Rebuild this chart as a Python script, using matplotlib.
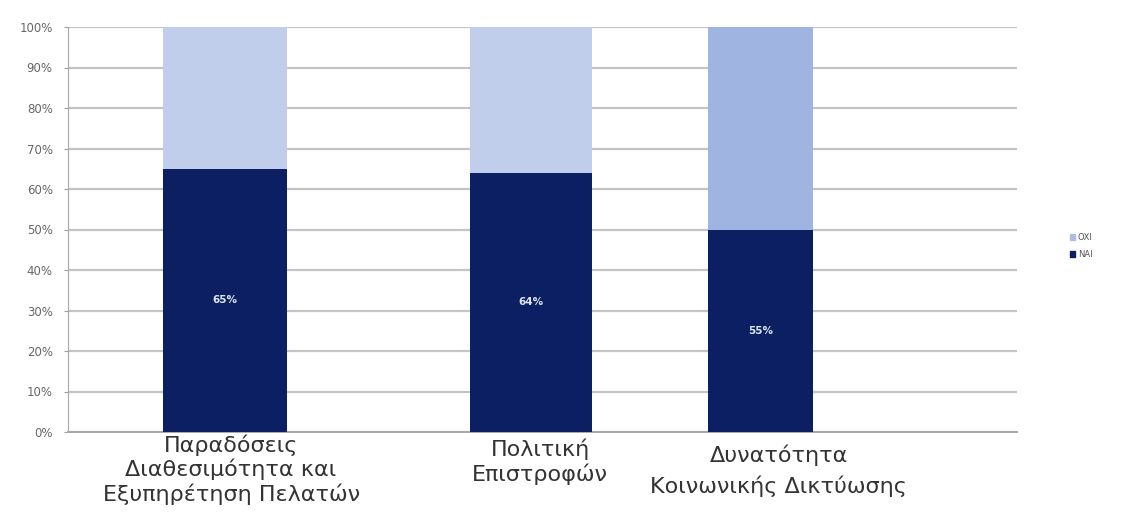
import numpy as np
import matplotlib
matplotlib.use("Agg")
import matplotlib.pyplot as plt
from matplotlib.patches import Patch

# ---- data ----
categories = ["Παραδόσεις\nΔιαθεσιμότητα και\nΕξυπηρέτηση Πελατών",
              "Πολιτική\nΕπιστροφών",
              "Δυνατότητα\nΚοινωνικής Δικτύωσης"]
nai = [65, 64, 50]
oxi = [35, 36, 50]
nai_labels = ["65%", "64%", "55%"]
series_names = ["ΝΑΙ", "ΟΧΙ"]
yticks = [0, 10, 20, 30, 40, 50, 60, 70, 80, 90, 100]

# ---- layout / style ----
bar_shift = [0.0, 0.0, -0.25]
bar_width = [0.405, 0.40, 0.345]
label_shift = [0.02, 0.03, -0.19]
label_drop = [2, 5, 9]          # points below axis
label_linespacing = [1.15, 1.2, 1.55]
nai_color = "#0b1f62"
oxi_colors = ["#c0cdeb", "#c0cdeb", "#9fb4e0"]

plt.rcParams['font.family'] = ['DejaVu Sans']

fig = plt.figure(figsize=(11.25, 5.22), dpi=100)
ax = fig.add_axes([68/1125, 90/522, (1017-68)/1125, (432-27)/522])

x = np.arange(len(categories)) + np.array(bar_shift)
ax.bar(x, nai, width=bar_width, color=nai_color, zorder=3)
ax.bar(x, oxi, width=bar_width, bottom=nai, color=oxi_colors, zorder=3)

for xi, v, t in zip(x, nai, nai_labels):
    ax.text(xi, v / 2, t, ha="center", va="center", fontsize=7.5,
            fontweight="bold", color="#dfe6f5", zorder=4)

ax.set_xlim(-0.513, 2.588)
ax.set_ylim(0, 100)
ax.set_yticks(yticks)
ax.set_yticklabels([f"{t}%" for t in yticks], fontsize=8.5, color="#666666")
ax.set_xticks([])
ax.yaxis.grid(True, color="#c4c4c4", linewidth=1.6, zorder=0)
ax.set_axisbelow(True)
ax.tick_params(axis="y", length=3, color="#a0a0a0", pad=8)
for s in ["top", "right"]:
    ax.spines[s].set_visible(False)
ax.spines["left"].set_color("#a8a8a8")
ax.spines["bottom"].set_color("#a8a8a8")
ax.spines["bottom"].set_linewidth(1.4)

xl = np.arange(len(categories)) + np.array(label_shift)
for xi, lab, dy, ls in zip(xl, categories, label_drop, label_linespacing):
    ax.annotate(lab, xy=(xi, 0), xycoords=("data", "axes fraction"),
                xytext=(0, -dy), textcoords="offset points",
                ha="center", va="top", fontsize=16, color="#333333",
                linespacing=ls, annotation_clip=False)

handles = [Patch(color="#aebddf", label=series_names[1]),
           Patch(color=nai_color, label=series_names[0])]
fig.legend(handles=handles, loc="center left", bbox_to_anchor=(1062/1125, 1 - 246/522),
           frameon=False, fontsize=6, handlelength=0.7, handleheight=0.7,
           handletextpad=0.3, labelspacing=0.9, labelcolor="#555555")

fig.savefig("out.png", dpi=100)
